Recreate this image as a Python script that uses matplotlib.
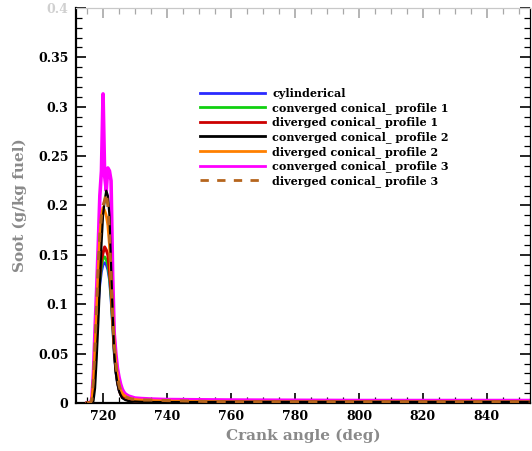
import matplotlib
matplotlib.use("Agg")
import matplotlib.pyplot as plt
from matplotlib.ticker import MultipleLocator, FixedFormatter, FixedLocator, NullFormatter

# Crank angle samples (deg)
crank_angle = [715, 715.5, 716, 716.5, 717, 717.5, 718, 718.5, 719, 719.5,
               720, 720.5, 721, 721.5, 722, 722.5, 723, 723.5, 724, 724.5,
               725, 725.5, 726, 726.5, 727, 728, 729, 730, 732, 735,
               740, 760, 800, 853]

# Soot (g/kg fuel) for each nozzle geometry
cylinderical = [0, 0, 0, 0.001, 0.012, 0.04, 0.075, 0.1, 0.12, 0.133,
                0.14, 0.142, 0.14, 0.135, 0.125, 0.105, 0.078, 0.05, 0.032, 0.02,
                0.013, 0.009, 0.006, 0.005, 0.004, 0.003, 0.0025, 0.002, 0.002, 0.0015,
                0.0012, 0.001, 0.001, 0.001]
conv_profile1 = [0, 0, 0, 0.001, 0.014, 0.043, 0.078, 0.105, 0.125, 0.138,
                 0.146, 0.148, 0.145, 0.14, 0.128, 0.108, 0.08, 0.052, 0.033, 0.021,
                 0.014, 0.009, 0.006, 0.005, 0.004, 0.003, 0.0025, 0.002, 0.002, 0.0015,
                 0.0012, 0.001, 0.001, 0.001]
div_profile1 = [0, 0, 0, 0.001, 0.015, 0.045, 0.08, 0.11, 0.13, 0.145,
                0.152, 0.158, 0.155, 0.15, 0.135, 0.115, 0.085, 0.055, 0.035, 0.022,
                0.014, 0.009, 0.006, 0.005, 0.004, 0.003, 0.0025, 0.002, 0.002, 0.0015,
                0.0012, 0.001, 0.001, 0.001]
conv_profile2 = [0, 0, 0, 0, 0.002, 0.015, 0.045, 0.08, 0.12, 0.16,
                 0.19, 0.205, 0.215, 0.21, 0.19, 0.14, 0.09, 0.05, 0.03, 0.02,
                 0.012, 0.008, 0.005, 0.004, 0.003, 0.002, 0.0015, 0.0015, 0.0012, 0.001,
                 0.001, 0.001, 0.001, 0.001]
div_profile2 = [0, 0, 0, 0.002, 0.02, 0.055, 0.095, 0.135, 0.17, 0.19,
                0.198, 0.195, 0.19, 0.18, 0.16, 0.125, 0.09, 0.06, 0.04, 0.028,
                0.019, 0.013, 0.01, 0.008, 0.007, 0.005, 0.004, 0.0035, 0.003, 0.0025,
                0.002, 0.001, 0.001, 0.001]
conv_profile3 = [0, 0, 0, 0.004, 0.03, 0.075, 0.115, 0.16, 0.21, 0.235,
                 0.313, 0.23, 0.215, 0.238, 0.235, 0.225, 0.13, 0.07, 0.05, 0.035,
                 0.026, 0.019, 0.014, 0.011, 0.009, 0.007, 0.006, 0.005, 0.0045, 0.004,
                 0.0035, 0.003, 0.0025, 0.0025]
div_profile3 = [0, 0, 0, 0.003, 0.025, 0.06, 0.1, 0.14, 0.17, 0.19,
                0.2, 0.205, 0.213, 0.2, 0.17, 0.13, 0.09, 0.06, 0.04, 0.027,
                0.018, 0.012, 0.009, 0.007, 0.006, 0.005, 0.004, 0.004, 0.003, 0.003,
                0.0025, 0.001, 0.001, 0.001]

labels = ["cylinderical", "converged conical_ profile 1", "diverged conical_ profile 1",
          "converged conical_ profile 2", "diverged conical_ profile 2",
          "converged conical_ profile 3", "diverged conical_ profile 3"]

x_ticks = [720, 740, 760, 780, 800, 820, 840]
y_ticks = [0, 0.05, 0.1, 0.15, 0.2, 0.25, 0.3, 0.35, 0.4]
y_tick_labels = ["0", "0.05", "0.1", "0.15", "0.2", "0.25", "0.3", "0.35", "0.4"]

font = "DejaVu Serif"

fig = plt.figure(figsize=(5.32, 4.51), dpi=100)
ax = fig.add_axes([0.142, 0.1064, 0.855, 0.8759])

series = [
    (cylinderical, dict(color="#2a2aff", lw=2.0, ls="-", zorder=3)),
    (conv_profile1, dict(color="#10d010", lw=2.0, ls="-", zorder=3)),
    (div_profile1, dict(color="#cc0000", lw=2.2, ls="-", zorder=4)),
    (conv_profile2, dict(color="black", lw=1.6, ls="-", zorder=5)),
    (div_profile2, dict(color="#ff8000", lw=2.0, ls="-", zorder=4)),
    (conv_profile3, dict(color="#ff00ff", lw=2.6, ls="-", zorder=2)),
    (div_profile3, dict(color="#b5651d", lw=2.2, ls=(0, (3, 3)), zorder=6)),
]
handles = []
for (vals, style), lab in zip(series, labels):
    h, = ax.plot(crank_angle, vals, label=lab, **style)
    handles.append(h)

ax.set_xlim(711.4, 853.6)
ax.set_ylim(0, 0.4)

ax.xaxis.set_major_locator(FixedLocator(x_ticks))
ax.xaxis.set_minor_locator(MultipleLocator(5))
ax.yaxis.set_major_locator(FixedLocator(y_ticks))
ax.yaxis.set_major_formatter(FixedFormatter(y_tick_labels))
ax.yaxis.set_minor_locator(MultipleLocator(0.01))

ax.tick_params(which="both", direction="in", top=False, right=True)
ax.tick_params(which="major", length=7, width=1.2, pad=5)
ax.tick_params(which="minor", length=4, width=0.9)

# lighter tick marks along the top edge
top = ax.secondary_xaxis("top")
top.xaxis.set_major_locator(FixedLocator(x_ticks))
top.xaxis.set_minor_locator(MultipleLocator(5))
top.xaxis.set_major_formatter(NullFormatter())
top.tick_params(which="both", direction="in", color="#a8a8a8")
top.tick_params(which="major", length=7, width=1.2)
top.tick_params(which="minor", length=4, width=0.9)
top.spines["top"].set_visible(False)

for lab in ax.get_xticklabels() + ax.get_yticklabels():
    lab.set_fontfamily(font)
    lab.set_fontweight("bold")
    lab.set_fontsize(9)
ax.get_yticklabels()[-1].set_color("#d0d0d0")

ax.spines["left"].set_linewidth(1.6)
ax.spines["bottom"].set_linewidth(1.6)
ax.spines["right"].set_linewidth(0.9)
ax.spines["top"].set_linewidth(0.9)
ax.spines["top"].set_color("#c8c8c8")

ax.set_xlabel("Crank angle (deg)", fontfamily=font, fontweight="bold",
              fontsize=11, color="#8a8a8a", labelpad=4)
ax.set_ylabel("Soot (g/kg fuel)", fontfamily=font, fontweight="bold",
              fontsize=11, color="#8a8a8a", labelpad=8)

leg = ax.legend(handles=handles, loc="upper left", bbox_to_anchor=(0.274, 0.797),
                frameon=False, borderpad=0, borderaxespad=0, handlelength=5.8,
                handletextpad=0.7, labelspacing=0.25,
                prop=dict(family=font, weight="bold", size=8))
for line in leg.get_lines():
    line.set_linewidth(2.0)

fig.savefig("out.png", dpi=100)
